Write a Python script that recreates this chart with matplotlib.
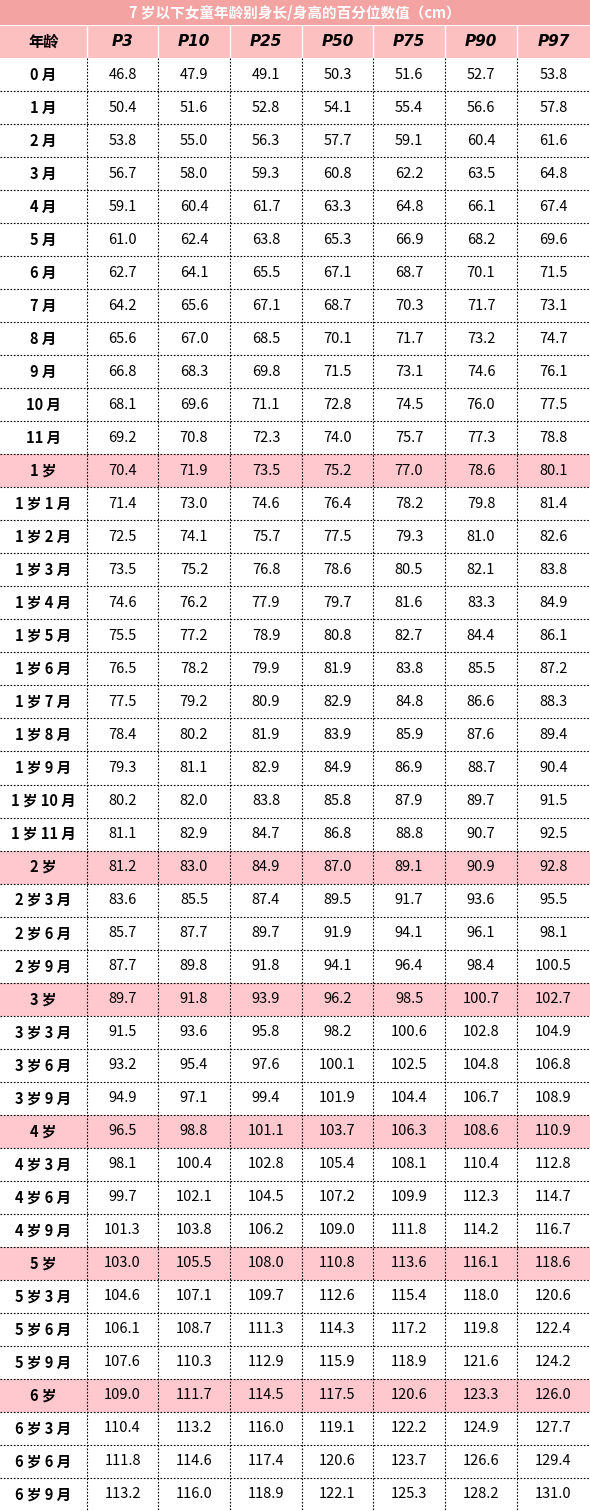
import matplotlib
matplotlib.use("Agg")
import matplotlib.pyplot as plt
from matplotlib.patches import Rectangle

plt.rcParams['font.family'] = ['Noto Sans CJK SC', 'DejaVu Sans']

title = "7 岁以下女童年龄别身长/身高的百分位数值（cm）"
headers = ["年龄", "P3", "P10", "P25", "P50", "P75", "P90", "P97"]
ages = ["0 月","1 月","2 月","3 月","4 月","5 月","6 月","7 月","8 月","9 月","10 月","11 月",
        "1 岁","1 岁 1 月","1 岁 2 月","1 岁 3 月","1 岁 4 月","1 岁 5 月","1 岁 6 月","1 岁 7 月",
        "1 岁 8 月","1 岁 9 月","1 岁 10 月","1 岁 11 月",
        "2 岁","2 岁 3 月","2 岁 6 月","2 岁 9 月",
        "3 岁","3 岁 3 月","3 岁 6 月","3 岁 9 月",
        "4 岁","4 岁 3 月","4 岁 6 月","4 岁 9 月",
        "5 岁","5 岁 3 月","5 岁 6 月","5 岁 9 月",
        "6 岁","6 岁 3 月","6 岁 6 月","6 岁 9 月"]
p3 = [46.8,50.4,53.8,56.7,59.1,61.0,62.7,64.2,65.6,66.8,68.1,69.2,70.4,71.4,72.5,73.5,74.6,75.5,76.5,77.5,78.4,79.3,80.2,81.1,81.2,83.6,85.7,87.7,89.7,91.5,93.2,94.9,96.5,98.1,99.7,101.3,103.0,104.6,106.1,107.6,109.0,110.4,111.8,113.2]
p10 = [47.9,51.6,55.0,58.0,60.4,62.4,64.1,65.6,67.0,68.3,69.6,70.8,71.9,73.0,74.1,75.2,76.2,77.2,78.2,79.2,80.2,81.1,82.0,82.9,83.0,85.5,87.7,89.8,91.8,93.6,95.4,97.1,98.8,100.4,102.1,103.8,105.5,107.1,108.7,110.3,111.7,113.2,114.6,116.0]
p25 = [49.1,52.8,56.3,59.3,61.7,63.8,65.5,67.1,68.5,69.8,71.1,72.3,73.5,74.6,75.7,76.8,77.9,78.9,79.9,80.9,81.9,82.9,83.8,84.7,84.9,87.4,89.7,91.8,93.9,95.8,97.6,99.4,101.1,102.8,104.5,106.2,108.0,109.7,111.3,112.9,114.5,116.0,117.4,118.9]
p50 = [50.3,54.1,57.7,60.8,63.3,65.3,67.1,68.7,70.1,71.5,72.8,74.0,75.2,76.4,77.5,78.6,79.7,80.8,81.9,82.9,83.9,84.9,85.8,86.8,87.0,89.5,91.9,94.1,96.2,98.2,100.1,101.9,103.7,105.4,107.2,109.0,110.8,112.6,114.3,115.9,117.5,119.1,120.6,122.1]
p75 = [51.6,55.4,59.1,62.2,64.8,66.9,68.7,70.3,71.7,73.1,74.5,75.7,77.0,78.2,79.3,80.5,81.6,82.7,83.8,84.8,85.9,86.9,87.9,88.8,89.1,91.7,94.1,96.4,98.5,100.6,102.5,104.4,106.3,108.1,109.9,111.8,113.6,115.4,117.2,118.9,120.6,122.2,123.7,125.3]
p90 = [52.7,56.6,60.4,63.5,66.1,68.2,70.1,71.7,73.2,74.6,76.0,77.3,78.6,79.8,81.0,82.1,83.3,84.4,85.5,86.6,87.6,88.7,89.7,90.7,90.9,93.6,96.1,98.4,100.7,102.8,104.8,106.7,108.6,110.4,112.3,114.2,116.1,118.0,119.8,121.6,123.3,124.9,126.6,128.2]
p97 = [53.8,57.8,61.6,64.8,67.4,69.6,71.5,73.1,74.7,76.1,77.5,78.8,80.1,81.4,82.6,83.8,84.9,86.1,87.2,88.3,89.4,90.4,91.5,92.5,92.8,95.5,98.1,100.5,102.7,104.9,106.8,108.9,110.9,112.8,114.7,116.7,118.6,120.6,122.4,124.2,126.0,127.7,129.4,131.0]
series = [p3, p10, p25, p50, p75, p90, p97]

W, H = 590, 1511
fig = plt.figure(figsize=(W/100, H/100), dpi=100)
ax = fig.add_axes([0, 0, 1, 1])
ax.set_xlim(0, W); ax.set_ylim(H, 0); ax.axis('off')

cols = [0, 87, 158, 230, 302, 373, 445, 517, 590]
title_h = 25
head_top, head_bot = 26, 58
n = len(ages)
rh = (H - head_bot) / n

ax.add_patch(Rectangle((0, 0), W, title_h, color='#F4A3A3', lw=0))
ax.text(W/2, title_h/2, title, ha='center', va='center', color='white', fontsize=10.5, fontweight='bold')
ax.add_patch(Rectangle((0, head_top), W, head_bot-head_top, color='#FDC0C0', lw=0))
for i, h in enumerate(headers):
    xc = (cols[i]+cols[i+1])/2
    if i == 0:
        ax.text(xc, (head_top+head_bot)/2, h, ha='center', va='center', fontsize=11, fontweight='bold')
    else:
        ax.text(xc, (head_top+head_bot)/2, r"$\boldsymbol{P}$" if False else "", ha='center')
        ax.text(xc, (head_top+head_bot)/2, h, ha='center', va='center', fontsize=11,
                fontweight='bold', fontstyle='italic', family=['DejaVu Sans'])
for x in cols[1:-1]:
    ax.plot([x, x], [head_top, head_bot], color='white', lw=1)

for r in range(n):
    y0 = head_bot + r*rh
    yc = y0 + rh/2
    if "月" not in ages[r]:
        ax.add_patch(Rectangle((0, y0), W, rh, color='#FFC7CE', lw=0, zorder=0))
    ax.text((cols[0]+cols[1])/2, yc, ages[r], ha='center', va='center', fontsize=10.5, fontweight='bold')
    for c, s in enumerate(series):
        ax.text((cols[c+1]+cols[c+2])/2, yc, f"{s[r]:.1f}", ha='center', va='center', fontsize=10.5)
    if r > 0:
        ax.plot([0, W], [y0, y0], color='black', lw=0.8, ls=(0, (1.5, 1.5)))
for x in cols[1:-1]:
    ax.plot([x, x], [head_bot, H], color='black', lw=0.8, ls=(0, (1.5, 1.5)))

fig.savefig("out.png", dpi=100)
